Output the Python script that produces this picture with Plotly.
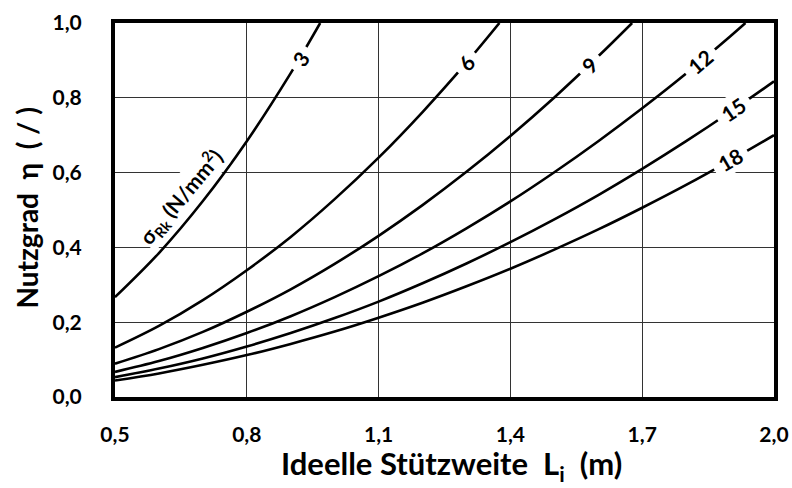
import plotly.graph_objects as go

# Ideelle Stützweite L_i (m) sample positions and read-off Nutzgrad values per sigma_Rk curve
L_3 = [0.5, 0.6, 0.7, 0.8, 0.9, 0.967]
eta_3 = [0.267, 0.385, 0.524, 0.684, 0.866, 1.0]

L_6 = [0.5, 0.6, 0.7, 0.8, 0.9, 1.0, 1.1, 1.2, 1.3, 1.375]
eta_6 = [0.132, 0.190, 0.259, 0.339, 0.428, 0.529, 0.640, 0.762, 0.894, 1.0]

L_9 = [0.5, 0.6, 0.7, 0.8, 0.9, 1.0, 1.1, 1.2, 1.3, 1.4, 1.5, 1.6, 1.677]
eta_9 = [0.089, 0.128, 0.174, 0.228, 0.288, 0.356, 0.431, 0.513, 0.602, 0.698, 0.801, 0.911, 1.0]

L_12 = [0.5, 0.6, 0.7, 0.8, 0.9, 1.0, 1.1, 1.2, 1.3, 1.4, 1.5, 1.6, 1.7, 1.8, 1.9, 1.935]
eta_12 = [0.067, 0.096, 0.131, 0.171, 0.216, 0.267, 0.323, 0.384, 0.451, 0.523, 0.601, 0.684, 0.772, 0.865, 0.964, 1.0]

L_15 = [0.5, 0.6, 0.7, 0.8, 0.9, 1.0, 1.1, 1.2, 1.3, 1.4, 1.5, 1.6, 1.7, 1.8, 1.9, 2.0]
eta_15 = [0.053, 0.076, 0.103, 0.135, 0.171, 0.211, 0.255, 0.304, 0.357, 0.414, 0.475, 0.540, 0.610, 0.684, 0.762, 0.844]

L_18 = [0.5, 0.6, 0.7, 0.8, 0.9, 1.0, 1.1, 1.2, 1.3, 1.4, 1.5, 1.6, 1.7, 1.8, 1.9, 2.0]
eta_18 = [0.044, 0.063, 0.086, 0.112, 0.142, 0.175, 0.212, 0.252, 0.296, 0.343, 0.394, 0.448, 0.506, 0.567, 0.632, 0.700]

series = [("3", L_3, eta_3), ("6", L_6, eta_6), ("9", L_9, eta_9),
          ("12", L_12, eta_12), ("15", L_15, eta_15), ("18", L_18, eta_18)]

# curve labels: text, x, y, angle
label_text = ["3", "6", "9", "12", "15", "18"]
label_x = [0.923, 1.300, 1.581, 1.832, 1.907, 1.900]
label_y = [0.905, 0.894, 0.889, 0.896, 0.768, 0.634]
label_angle = [-56, -49, -44, -40, -34, -30]

x_ticks = [0.5, 0.8, 1.1, 1.4, 1.7, 2.0]
x_ticktext = ["0,5", "0,8", "1,1", "1,4", "1,7", "2,0"]
y_ticks = [0.0, 0.2, 0.4, 0.6, 0.8, 1.0]
y_ticktext = ["0,0", "0,2", "0,4", "0,6", "0,8", "1,0"]

FONT = "Lato"

fig = go.Figure()
for name, xs, ys in series:
    fig.add_trace(go.Scatter(x=xs, y=ys, mode="lines", name=name,
                             line=dict(color="black", width=2.6, shape="spline"),
                             showlegend=False, hoverinfo="skip"))

annotations = []
for t, x, y, a in zip(label_text, label_x, label_y, label_angle):
    annotations.append(dict(x=x, y=y, xref="x", yref="y",
                            text="&nbsp;<b>%s</b>&nbsp;" % t,
                            showarrow=False, textangle=a, bgcolor="white",
                            borderpad=1,
                            font=dict(family=FONT, size=21, color="black")))

annotations.append(dict(x=0.650, y=0.535, xref="x", yref="y",
                        text="<b>σ<sub>Rk</sub> (N/mm<sup>2</sup>)</b>",
                        showarrow=False, textangle=-50, bgcolor="white", borderpad=0,
                        font=dict(family=FONT, size=21, color="black")))

annotations.append(dict(x=0.51, y=-0.184, xref="paper", yref="paper", yanchor="middle",
                        text="<b>Ideelle Stützweite  L<sub>i</sub>  (m)</b>",
                        showarrow=False, font=dict(family=FONT, size=31, color="black")))
annotations.append(dict(x=-0.135, y=0.504, xref="paper", yref="paper", xanchor="center",
                        text="<b>Nutzgrad  η  ( / )</b>", textangle=-90,
                        showarrow=False, font=dict(family=FONT, size=28, color="black")))

fig.update_layout(
    width=792, height=488,
    margin=dict(l=115, r=18, t=23, b=91, autoexpand=False),
    paper_bgcolor="white", plot_bgcolor="white",
    annotations=annotations,
)
fig.update_xaxes(range=[0.5, 2.0], tickvals=x_ticks,
                 ticktext=["<b>%s</b>" % t for t in x_ticktext],
                 showgrid=True, gridcolor="#333333", gridwidth=1.3,
                 showline=True, linecolor="black", linewidth=4, mirror=True,
                 zeroline=False, ticks="", ticklabelstandoff=16, automargin=False,
                 ticklabeloverflow="allow",
                 tickfont=dict(family=FONT, size=21, color="black"))
fig.update_yaxes(range=[0.0, 1.0], tickvals=y_ticks,
                 ticktext=["<b>%s</b>" % t for t in y_ticktext],
                 showgrid=True, gridcolor="#333333", gridwidth=1.3,
                 showline=True, linecolor="black", linewidth=4, mirror=True,
                 zeroline=False, ticks="", ticklabelstandoff=25, automargin=False,
                 tickfont=dict(family=FONT, size=21, color="black"))

fig.write_html("out.html", config={"displayModeBar": False, "staticPlot": True},
               post_script="document.body.style.margin='0';document.body.style.overflow='hidden';")
